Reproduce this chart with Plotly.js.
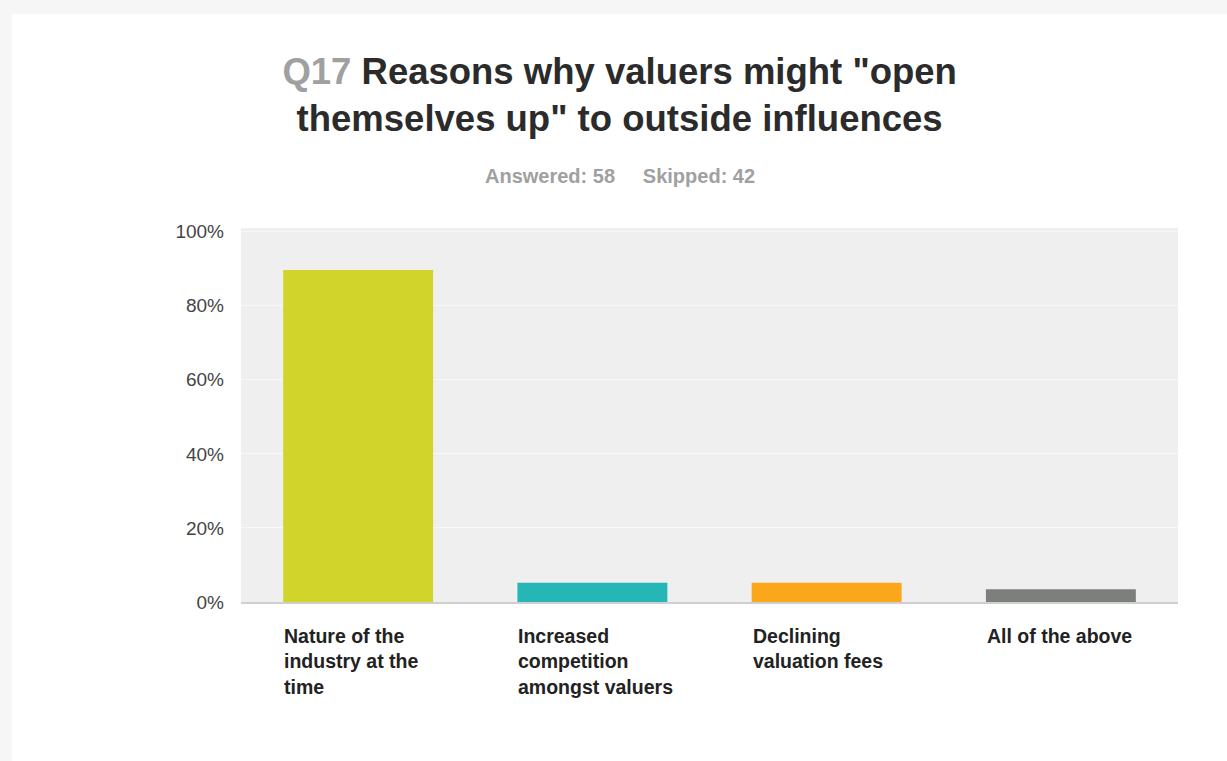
<!DOCTYPE html>
<html>
<head>
<meta charset="utf-8">
<script src="https://cdn.plot.ly/plotly-3.0.1.min.js"></script>
<style>html,body{margin:0;padding:0;background:#fff;}#chart{width:1227px;height:761px;}</style>
</head>
<body>
<div id="chart"></div>
<script>
const categories = ["Nature of the industry at the time", "Increased competition amongst valuers", "Declining valuation fees", "All of the above"];
const tickLabels = ["Nature of the<br>industry at the<br>time", "Increased<br>competition<br>amongst valuers", "Declining<br>valuation fees", "All of the above"];
const values = [0.8966, 0.0517, 0.0517, 0.0345];
const barColors = ["#d1d42a", "#27b6b6", "#fba71b", "#7d7f7c"];
const yTickVals = [0, 0.2, 0.4, 0.6, 0.8, 1.0];
const yTickText = ["0%", "20%", "40%", "60%", "80%", "100%"];

const FONT = "Liberation Sans, Arial, sans-serif";

const trace = {
  type: "bar",
  x: categories,
  y: values,
  marker: {color: barColors},
  hoverinfo: "skip"
};

const annotations = categories.map((c, i) => ({
  x: c, y: 0, xref: "x", yref: "paper",
  xanchor: "left", yanchor: "top", align: "left",
  xshift: -76, yshift: -21,
  text: "<b>" + tickLabels[i] + "</b>",
  showarrow: false,
  font: {family: FONT, size: 19.5, color: "#222"}
}));
annotations.push({
  xref: "paper", yref: "paper", x: 0.4045, y: 1, yanchor: "middle", xanchor: "center",
  yshift: 52, showarrow: false,
  text: "<b>Answered: 58&nbsp;&nbsp;&nbsp;&nbsp;&nbsp;Skipped: 42</b>",
  font: {family: FONT, size: 20, color: "#a0a0a0"}
});

const layout = {
  width: 1227, height: 761,
  margin: {l: 241, r: 49, t: 228, b: 159},
  paper_bgcolor: "#ffffff",
  plot_bgcolor: "#efefef",
  showlegend: false,
  bargap: 0.36,
  title: {
    text: '<b><span style="color:#a0a0a0">Q17</span> Reasons why valuers might "open<br>themselves up" to outside influences</b>',
    x: 0.505, xref: "container", xanchor: "center",
    y: 1 - 84/761, yref: "container", yanchor: "top",
    font: {family: FONT, size: 36.5, color: "#2b2b2b"}
  },
  xaxis: {
    showticklabels: false, ticks: "", showgrid: false, zeroline: false,
    showline: true, linecolor: "#cfcfcf", linewidth: 2, fixedrange: true
  },
  yaxis: {
    range: [0, 1.01], tickvals: yTickVals, ticktext: yTickText,
    showgrid: true, gridcolor: "#f8f8f8", gridwidth: 1, zeroline: false,
    ticks: "", ticklabelstandoff: 16,
    tickfont: {family: FONT, size: 19, color: "#444"},
    fixedrange: true
  },
  shapes: [
    {type: "rect", xref: "paper", yref: "paper", layer: "below",
     x0: -0.3, x1: 1.1, y0: 1.572, y1: 1.7,
     fillcolor: "#f6f6f6", line: {width: 0}},
    {type: "rect", xref: "paper", yref: "paper", layer: "below",
     x0: -0.3, x1: -0.2444, y0: -0.5, y1: 1.7,
     fillcolor: "#f6f6f6", line: {width: 0}}
  ],
  annotations: annotations
};

Plotly.newPlot("chart", [trace], layout, {displayModeBar: false, staticPlot: true});
</script>
</body>
</html>
